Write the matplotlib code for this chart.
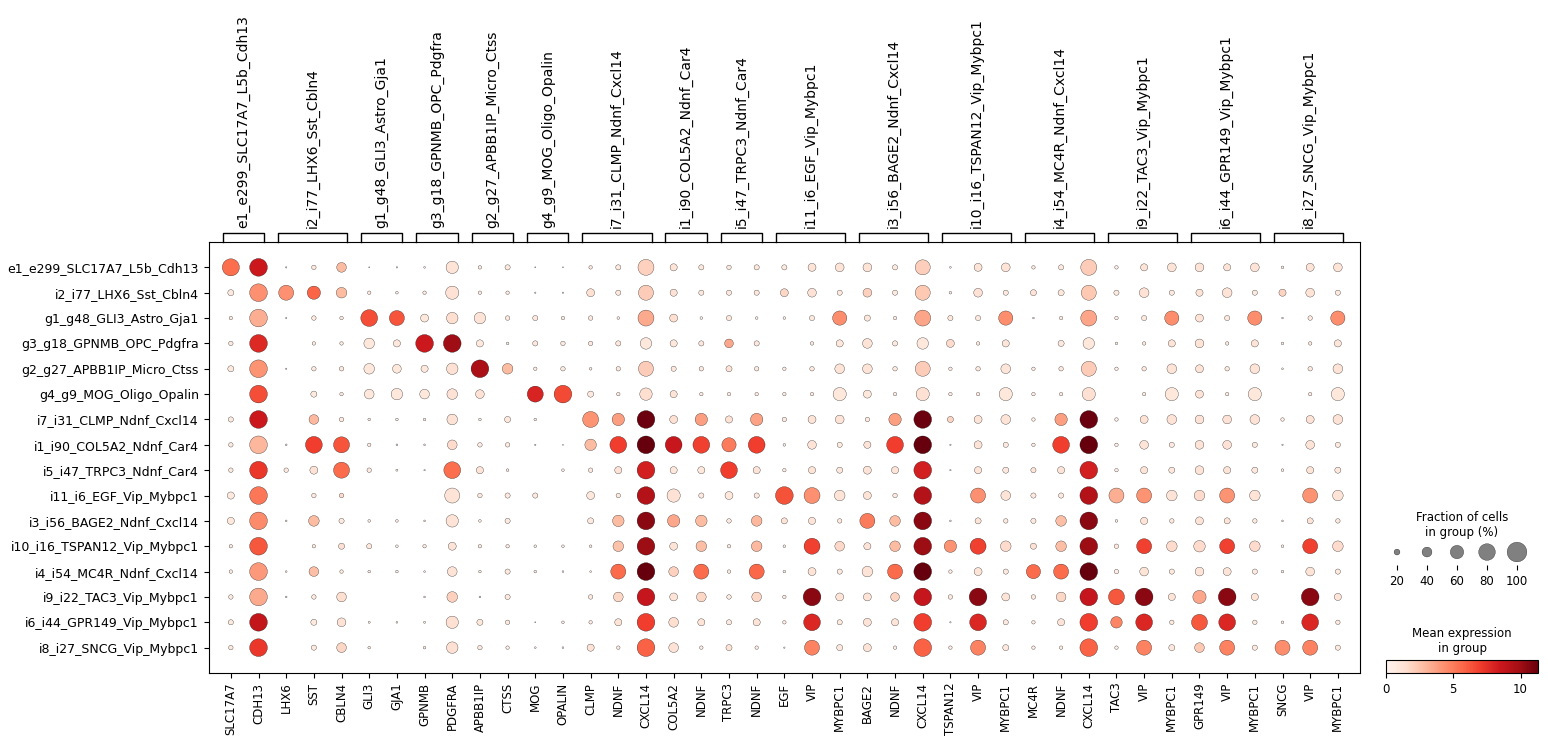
import numpy as np
import matplotlib
matplotlib.use('Agg')
import matplotlib.pyplot as plt
import matplotlib.transforms as mtransforms
from matplotlib.colors import Normalize
from matplotlib.cm import ScalarMappable

# cell groups (rows)
row_labels = ['e1_e299_SLC17A7_L5b_Cdh13', 'i2_i77_LHX6_Sst_Cbln4', 'g1_g48_GLI3_Astro_Gja1',
              'g3_g18_GPNMB_OPC_Pdgfra', 'g2_g27_APBB1IP_Micro_Ctss', 'g4_g9_MOG_Oligo_Opalin',
              'i7_i31_CLMP_Ndnf_Cxcl14', 'i1_i90_COL5A2_Ndnf_Car4', 'i5_i47_TRPC3_Ndnf_Car4',
              'i11_i6_EGF_Vip_Mybpc1', 'i3_i56_BAGE2_Ndnf_Cxcl14', 'i10_i16_TSPAN12_Vip_Mybpc1',
              'i4_i54_MC4R_Ndnf_Cxcl14', 'i9_i22_TAC3_Vip_Mybpc1', 'i6_i44_GPR149_Vip_Mybpc1',
              'i8_i27_SNCG_Vip_Mybpc1']

# marker gene groups (columns)
group_names = row_labels
group_genes = [['SLC17A7', 'CDH13'], ['LHX6', 'SST', 'CBLN4'], ['GLI3', 'GJA1'], ['GPNMB', 'PDGFRA'],
               ['APBB1IP', 'CTSS'], ['MOG', 'OPALIN'], ['CLMP', 'NDNF', 'CXCL14'], ['COL5A2', 'NDNF'],
               ['TRPC3', 'NDNF'], ['EGF', 'VIP', 'MYBPC1'], ['BAGE2', 'NDNF', 'CXCL14'],
               ['TSPAN12', 'VIP', 'MYBPC1'], ['MC4R', 'NDNF', 'CXCL14'], ['TAC3', 'VIP', 'MYBPC1'],
               ['GPR149', 'VIP', 'MYBPC1'], ['SNCG', 'VIP', 'MYBPC1']]

# fraction of cells in group (%), one list per row
fraction_pct = [
    [83, 87, 3, 14, 39, 2, 3, 4, 54, 10, 17, 2, 2, 10, 17, 76, 26, 17, 14, 17, 17, 30, 34, 34, 17, 70, 4, 30, 34, 10, 17, 76, 10, 26, 34, 34, 26, 34, 7, 30, 34],
    [21, 87, 70, 59, 44, 10, 7, 10, 59, 10, 10, 3, 3, 30, 17, 70, 26, 17, 17, 17, 30, 34, 17, 34, 17, 70, 7, 34, 17, 21, 21, 70, 17, 39, 17, 26, 39, 17, 26, 34, 17],
    [10, 87, 3, 14, 10, 81, 70, 30, 49, 49, 14, 17, 10, 14, 7, 76, 30, 7, 17, 7, 7, 17, 65, 21, 10, 76, 17, 17, 65, 4, 10, 76, 10, 17, 65, 30, 17, 65, 4, 14, 65],
    [14, 87, 0, 10, 10, 44, 26, 87, 87, 26, 7, 17, 14, 14, 17, 49, 26, 17, 34, 17, 0, 10, 26, 39, 17, 49, 30, 10, 26, 0, 21, 49, 7, 10, 26, 34, 10, 26, 7, 10, 26],
    [21, 87, 3, 14, 14, 44, 34, 26, 49, 87, 44, 10, 14, 7, 14, 70, 17, 14, 21, 14, 10, 14, 39, 39, 14, 70, 10, 14, 39, 10, 14, 70, 10, 14, 39, 30, 14, 39, 4, 14, 39],
    [0, 87, 0, 21, 10, 39, 49, 39, 44, 34, 0, 76, 87, 21, 10, 54, 26, 10, 10, 10, 10, 10, 59, 30, 10, 59, 10, 10, 59, 10, 10, 59, 0, 10, 59, 30, 10, 59, 0, 10, 59],
    [17, 87, 0, 39, 14, 7, 7, 7, 44, 7, 21, 7, 0, 76, 54, 87, 30, 54, 26, 54, 14, 30, 34, 14, 54, 87, 21, 30, 39, 10, 54, 87, 10, 30, 39, 34, 34, 39, 10, 30, 39],
    [14, 87, 4, 81, 76, 10, 4, 4, 39, 14, 14, 3, 2, 49, 81, 87, 81, 81, 65, 81, 7, 34, 17, 26, 81, 87, 3, 30, 17, 10, 81, 87, 10, 34, 17, 34, 34, 17, 3, 34, 17],
    [14, 87, 14, 30, 76, 14, 5, 3, 81, 26, 7, 0, 7, 14, 26, 87, 26, 26, 81, 26, 10, 26, 21, 30, 26, 87, 3, 26, 21, 17, 26, 87, 10, 26, 21, 34, 26, 21, 7, 26, 21],
    [26, 87, 0, 14, 14, 0, 0, 0, 70, 14, 17, 17, 0, 30, 14, 87, 59, 17, 30, 17, 87, 76, 44, 30, 14, 87, 0, 70, 39, 17, 17, 87, 70, 70, 44, 44, 70, 44, 0, 70, 44],
    [26, 87, 4, 44, 17, 7, 7, 4, 54, 7, 17, 0, 0, 21, 49, 87, 54, 49, 14, 44, 21, 26, 14, 70, 44, 87, 4, 21, 14, 17, 44, 87, 7, 26, 14, 30, 21, 14, 4, 21, 14],
    [10, 87, 0, 10, 21, 17, 7, 10, 30, 10, 10, 7, 7, 7, 44, 87, 30, 44, 10, 44, 7, 76, 39, 26, 44, 87, 54, 76, 44, 21, 44, 87, 14, 70, 44, 49, 70, 44, 7, 70, 44],
    [10, 87, 4, 39, 10, 7, 7, 4, 39, 7, 17, 7, 4, 4, 70, 87, 39, 70, 10, 70, 7, 30, 17, 44, 70, 87, 10, 30, 17, 65, 70, 87, 14, 34, 17, 34, 30, 17, 7, 34, 17],
    [14, 87, 4, 14, 39, 0, 0, 4, 44, 4, 17, 0, 0, 14, 39, 87, 30, 39, 14, 39, 10, 87, 30, 30, 34, 87, 14, 87, 30, 14, 39, 87, 76, 87, 26, 59, 87, 26, 0, 87, 26],
    [17, 87, 0, 21, 34, 5, 4, 5, 54, 21, 14, 2, 7, 10, 26, 87, 39, 26, 17, 26, 10, 81, 17, 30, 26, 87, 3, 81, 17, 10, 26, 87, 49, 81, 14, 76, 81, 14, 7, 81, 14],
    [14, 87, 0, 17, 39, 7, 0, 7, 49, 14, 10, 4, 4, 26, 10, 87, 39, 10, 21, 10, 3, 70, 21, 30, 10, 87, 10, 70, 21, 10, 10, 87, 10, 70, 21, 39, 70, 17, 70, 70, 17],
]

# mean expression in group, one list per row
mean_expr = [
    [5.5, 8.5, 0.5, 0.8, 2.8, 0.5, 0.5, 0.5, 1.2, 0.8, 0.8, 0.5, 0.5, 0.8, 0.8, 2.0, 1.2, 1.0, 0.9, 1.0, 0.8, 1.2, 1.2, 1.2, 0.8, 2.1, 0.5, 1.2, 1.2, 0.8, 0.8, 2.2, 0.6, 1.2, 1.2, 1.2, 1.2, 1.2, 0.6, 1.2, 1.2],
    [0.8, 4.3, 4.3, 5.8, 2.8, 0.8, 0.6, 0.8, 1.3, 0.8, 0.8, 0.5, 0.5, 1.4, 0.8, 2.2, 1.3, 0.9, 0.9, 0.9, 1.8, 1.3, 0.8, 2.0, 0.8, 2.3, 0.6, 1.3, 0.8, 1.2, 1.0, 2.3, 0.8, 1.3, 0.8, 1.2, 1.2, 0.8, 1.9, 1.2, 0.8],
    [0.8, 3.3, 0.5, 0.8, 0.8, 6.5, 6.3, 1.0, 1.5, 1.2, 0.8, 0.9, 0.8, 0.8, 0.6, 3.4, 1.5, 0.6, 1.0, 0.6, 0.6, 0.8, 4.4, 1.0, 0.7, 3.6, 1.0, 0.8, 4.4, 0.5, 0.7, 3.6, 0.6, 0.8, 4.4, 1.2, 0.8, 4.4, 0.5, 0.8, 4.4],
    [0.8, 7.8, 0.0, 0.8, 0.8, 1.0, 1.0, 8.5, 10.0, 0.8, 0.6, 0.9, 0.8, 0.8, 0.9, 1.0, 1.0, 0.9, 3.5, 0.9, 0.0, 0.8, 1.0, 1.2, 0.8, 1.0, 1.6, 0.8, 1.1, 0.0, 0.8, 1.0, 0.6, 0.8, 1.2, 1.2, 0.8, 1.2, 0.6, 0.8, 1.1],
    [0.8, 4.2, 0.5, 0.8, 0.8, 1.0, 1.0, 1.0, 1.4, 9.7, 2.8, 0.7, 0.8, 0.6, 0.8, 2.2, 0.9, 0.8, 1.2, 0.8, 0.7, 0.8, 1.2, 1.2, 0.8, 2.2, 0.7, 0.8, 1.1, 0.7, 0.8, 2.2, 0.7, 0.8, 1.2, 1.2, 0.8, 1.2, 0.5, 0.8, 1.2],
    [0.0, 6.5, 0.0, 0.8, 0.8, 1.0, 1.0, 1.0, 1.3, 1.3, 0.0, 8.0, 6.6, 0.8, 0.7, 1.5, 1.2, 0.7, 0.7, 0.7, 0.7, 0.7, 1.0, 1.0, 0.7, 1.4, 0.7, 0.7, 1.0, 0.7, 0.7, 1.4, 0.0, 0.7, 1.0, 1.2, 0.7, 1.0, 0.0, 0.7, 1.0],
    [0.8, 8.5, 0.0, 2.9, 0.8, 0.6, 0.6, 0.6, 1.3, 0.6, 1.0, 0.6, 0.0, 4.2, 3.8, 11.2, 1.4, 3.8, 1.3, 3.7, 0.8, 1.2, 1.2, 0.8, 3.8, 11.2, 1.9, 1.2, 1.2, 0.7, 3.8, 11.2, 0.7, 1.3, 1.3, 1.3, 1.3, 1.3, 0.7, 1.3, 1.3],
    [0.8, 3.0, 0.5, 7.0, 6.3, 0.7, 0.5, 0.5, 1.6, 0.7, 0.7, 0.5, 0.5, 2.8, 7.0, 11.3, 8.6, 6.9, 5.0, 7.0, 0.6, 1.2, 0.8, 1.2, 7.0, 11.3, 0.5, 1.2, 0.8, 0.7, 7.0, 11.3, 0.7, 1.2, 0.8, 1.2, 1.3, 0.8, 0.5, 1.2, 0.8],
    [0.8, 7.2, 0.8, 1.3, 5.6, 0.8, 0.5, 0.5, 5.5, 1.2, 0.7, 0.0, 0.7, 0.8, 1.3, 8.2, 1.0, 1.0, 7.0, 1.2, 0.7, 1.2, 0.9, 1.2, 1.2, 8.2, 0.5, 1.2, 0.9, 1.2, 1.2, 8.2, 0.7, 1.2, 0.9, 1.2, 1.2, 0.9, 0.6, 1.2, 0.9],
    [0.8, 5.2, 0.0, 0.8, 1.6, 0.0, 0.0, 0.0, 1.2, 0.8, 0.8, 0.8, 0.0, 1.0, 0.8, 9.4, 1.3, 0.8, 1.0, 0.8, 6.4, 4.3, 1.2, 1.2, 0.8, 9.4, 0.0, 4.3, 1.2, 0.8, 0.8, 9.4, 3.3, 4.2, 1.2, 1.6, 4.2, 1.2, 0.0, 4.2, 1.2],
    [1.0, 4.5, 0.5, 2.8, 0.8, 0.6, 0.6, 0.5, 1.2, 0.6, 0.8, 0.0, 0.0, 0.8, 2.8, 10.5, 3.5, 2.8, 0.8, 3.0, 1.2, 1.2, 0.8, 5.0, 2.8, 10.5, 0.5, 1.2, 0.8, 0.8, 2.7, 10.5, 0.6, 1.2, 0.8, 1.2, 1.2, 0.8, 0.5, 1.2, 0.8],
    [0.8, 6.2, 0.0, 0.8, 1.4, 1.0, 0.6, 0.8, 1.2, 0.8, 0.8, 0.6, 0.6, 0.6, 2.6, 10.1, 1.2, 2.7, 0.8, 2.9, 0.6, 6.9, 1.7, 1.2, 2.8, 10.1, 4.2, 6.9, 1.6, 1.4, 2.7, 10.1, 0.8, 6.9, 1.6, 1.6, 6.9, 1.6, 0.6, 6.9, 1.6],
    [0.8, 4.0, 0.5, 2.7, 0.8, 0.6, 0.6, 0.5, 1.2, 0.6, 0.8, 0.6, 0.5, 0.5, 5.6, 11.3, 2.0, 5.6, 0.8, 5.7, 0.6, 1.2, 0.8, 1.2, 5.6, 11.3, 0.7, 1.2, 0.8, 5.6, 5.6, 11.3, 0.7, 1.2, 0.8, 1.2, 1.2, 0.8, 0.6, 1.2, 0.8],
    [0.8, 3.4, 0.5, 0.8, 1.5, 0.0, 0.0, 0.5, 2.0, 0.5, 0.8, 0.0, 0.0, 0.8, 1.8, 8.7, 1.2, 1.8, 0.8, 1.8, 0.7, 10.5, 1.2, 1.2, 1.9, 8.7, 0.8, 10.5, 1.2, 0.8, 1.8, 8.7, 6.2, 10.5, 1.2, 3.5, 10.5, 1.2, 0.0, 10.5, 1.2],
    [0.8, 8.8, 0.0, 0.8, 1.3, 0.5, 0.5, 0.5, 1.4, 1.0, 0.8, 0.5, 0.6, 0.7, 1.2, 7.0, 1.5, 1.2, 0.8, 1.2, 0.7, 7.9, 0.8, 1.2, 1.2, 7.0, 0.5, 7.9, 0.8, 0.7, 1.2, 7.0, 4.7, 7.9, 0.8, 6.2, 7.9, 0.8, 0.6, 7.9, 0.8],
    [0.8, 7.2, 0.0, 0.8, 1.8, 0.6, 0.0, 0.6, 1.4, 0.8, 0.7, 0.5, 0.5, 1.3, 0.7, 5.9, 1.3, 0.7, 1.2, 0.7, 0.5, 4.8, 0.9, 1.2, 0.7, 5.9, 0.7, 4.8, 0.9, 0.7, 0.7, 5.9, 0.7, 4.8, 0.9, 2.3, 4.8, 0.8, 4.4, 4.8, 0.8],
]

legend_sizes = [20, 40, 60, 80, 100]

genes = [g for grp in group_genes for g in grp]
n_rows, n_cols = len(row_labels), len(genes)
for i, (fr, ex) in enumerate(zip(fraction_pct, mean_expr)):
    if len(fr) != n_cols or len(ex) != n_cols:
        raise ValueError('row %d: %d / %d values' % (i, len(fr), len(ex)))

frac = np.array(fraction_pct) / 100.0
expr = np.array(mean_expr)

W, H = 1548, 748
fig = plt.figure(figsize=(W / 100, H / 100), dpi=100)

def box(x0, y0, x1, y1):
    # pixel box -> figure fraction
    return [x0 / W, 1 - y1 / H, (x1 - x0) / W, (y1 - y0) / H]

cmap = plt.get_cmap('Reds')
norm = Normalize(vmin=0, vmax=11.3)
largest_dot = 200

ax = fig.add_axes(box(208.7, 242, 1360, 673))
xx, yy = np.meshgrid(np.arange(n_cols) + 0.5, np.arange(n_rows) + 0.5)
ax.scatter(xx.ravel(), yy.ravel(), s=frac.ravel() ** 1.5 * largest_dot, c=expr.ravel(),
           cmap=cmap, norm=norm, edgecolors='black', linewidths=0.2)
ax.set_xlim(-0.3, n_cols + 0.3)
ax.set_ylim(n_rows + 0.5, -0.5)
ax.set_xticks(np.arange(n_cols) + 0.5)
ax.set_xticklabels(genes, rotation=90, fontsize=8.5)
ax.set_yticks(np.arange(n_rows) + 0.5)
ax.set_yticklabels(row_labels, fontsize=9)

# gene group brackets on top
trans = mtransforms.blended_transform_factory(ax.transData, ax.transAxes)
start = 0
for name, gl in zip(group_names, group_genes):
    left = start + 0.2
    right = start + len(gl) - 0.3
    ax.plot([left, left, right, right], [1.0, 1.021, 1.021, 1.0], transform=trans,
            color='black', lw=1.0, clip_on=False)
    ax.text((left + right) / 2, 1.032, name, rotation=90, ha='center', va='bottom',
            fontsize=10, transform=trans)
    start += len(gl)

# size legend
lax = fig.add_axes(box(1382, 530, 1532, 565))
ls = np.array(legend_sizes) / 100.0
lax.scatter(np.arange(len(ls)) + 0.5, np.full(len(ls), 0.37), s=ls ** 1.5 * largest_dot,
            color='gray', edgecolors='black', linewidths=0.2)
lax.set_xlim(0, len(ls))
lax.set_ylim(0, 1)
lax.set_xticks(np.arange(len(ls)) + 0.5)
lax.set_xticklabels([str(v) for v in legend_sizes], fontsize=8.5)
lax.tick_params(axis='y', left=False, labelleft=False)
for sp in lax.spines.values():
    sp.set_visible(False)
fig.text(1462 / W, 1 - 539 / H, 'Fraction of cells\nin group (%)', ha='center', va='bottom',
         fontsize=8.5, multialignment='center')

# colorbar
cax = fig.add_axes(box(1386, 660, 1538, 673))
cb = fig.colorbar(ScalarMappable(norm=norm, cmap=cmap), cax=cax, orientation='horizontal')
cb.set_ticks([0, 5, 10])
cax.tick_params(labelsize=8.5)
fig.text(1462 / W, 1 - 655 / H, 'Mean expression\nin group', ha='center', va='bottom',
         fontsize=8.5, multialignment='center')

fig.savefig('out.png', dpi=100)
